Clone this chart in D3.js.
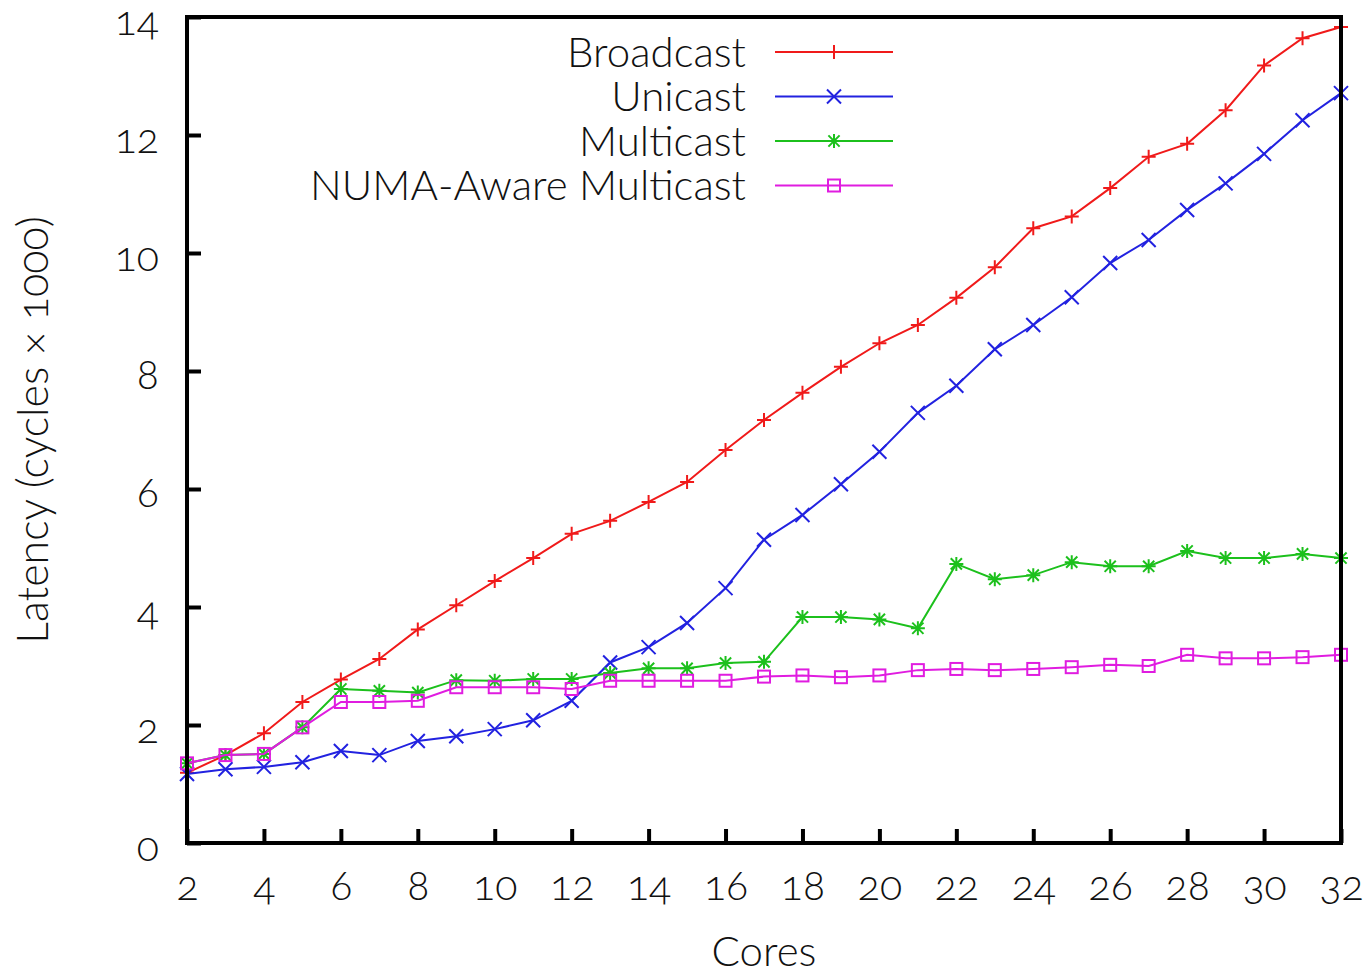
<!DOCTYPE html>
<html>
<head>
<meta charset="utf-8">
<script src="https://cdn.jsdelivr.net/npm/d3@7"></script>
<style>
  body { margin: 0; background: #fff; }
  svg text { font-family: Lato, "Open Sans", sans-serif; font-weight: 300; font-feature-settings: "onum"; font-variant-numeric: oldstyle-nums; fill: #111; }
</style>
</head>
<body>
<div id="chart"></div>
<script>
const cores = d3.range(2, 33);

const broadcast = [1.19, 1.49, 1.86, 2.39, 2.77, 3.12, 3.62, 4.03, 4.44, 4.83, 5.24, 5.46, 5.78, 6.12, 6.66, 7.17, 7.63, 8.07, 8.47, 8.78, 9.24, 9.76, 10.42, 10.62, 11.1, 11.63, 11.85, 12.42, 13.18, 13.64, 13.83];
const unicast = [1.17, 1.25, 1.29, 1.37, 1.56, 1.49, 1.73, 1.81, 1.93, 2.08, 2.41, 3.06, 3.32, 3.73, 4.32, 5.14, 5.56, 6.08, 6.63, 7.29, 7.75, 8.37, 8.78, 9.25, 9.83, 10.22, 10.73, 11.18, 11.68, 12.25, 12.71];
const multicast = [1.35, 1.49, 1.51, 1.96, 2.61, 2.58, 2.55, 2.76, 2.75, 2.78, 2.78, 2.88, 2.96, 2.96, 3.05, 3.07, 3.83, 3.83, 3.79, 3.64, 4.73, 4.47, 4.54, 4.76, 4.69, 4.69, 4.95, 4.83, 4.83, 4.9, 4.83];
const numaMulticast = [1.35, 1.49, 1.51, 1.96, 2.39, 2.39, 2.41, 2.64, 2.64, 2.64, 2.61, 2.75, 2.75, 2.75, 2.75, 2.82, 2.84, 2.81, 2.84, 2.93, 2.95, 2.93, 2.95, 2.98, 3.02, 3.0, 3.19, 3.13, 3.13, 3.15, 3.19];

const seriesNames = ["Broadcast", "Unicast", "Multicast", "NUMA-Aware Multicast"];
const seriesValues = [broadcast, unicast, multicast, numaMulticast];
const seriesColors = ["#f01a1a", "#2222e0", "#1cc01c", "#e01ce0"];
const seriesMarkers = ["plus", "cross", "star", "square"];

const xTicks = d3.range(2, 33, 2);
const yTicks = d3.range(0, 15, 2);

const width = 1371, height = 975;
const margin = { top: 17, right: 30, bottom: 132, left: 187 };

const svg = d3.select("#chart").append("svg")
  .attr("width", width)
  .attr("height", height);

const x = d3.scaleLinear().domain([2, 32]).range([margin.left, width - margin.right]);
const y = d3.scaleLinear().domain([0, 14]).range([height - margin.bottom, margin.top]);

function marker(g, type, color) {
  const s = 7;
  if (type === "plus") {
    g.append("path").attr("d", `M${-s},0H${s}M0,${-s}V${s}`);
  } else if (type === "cross") {
    g.append("path").attr("d", `M${-s},${-s}L${s},${s}M${-s},${s}L${s},${-s}`);
  } else if (type === "star") {
    g.append("path").attr("d", `M${-s},0H${s}M0,${-s}V${s}M${-s*0.8},${-s*0.8}L${s*0.8},${s*0.8}M${-s*0.8},${s*0.8}L${s*0.8},${-s*0.8}`);
  } else {
    g.append("rect").attr("x", -6).attr("y", -6).attr("width", 12).attr("height", 12);
  }
  g.selectAll("path, rect").attr("stroke", color).attr("stroke-width", 2).attr("fill", "none");
}

// ticks (inward)
svg.append("g")
  .attr("transform", `translate(${margin.left},0)`)
  .call(d3.axisLeft(y).tickValues(yTicks).tickSize(-14).tickPadding(28).tickFormat(d3.format("d")))
  .call(g => g.select(".domain").remove())
  .call(g => g.selectAll("line").attr("stroke", "#000").attr("stroke-width", 4))
  .call(g => g.selectAll("text").attr("font-size", 41).attr("dy", "0.42em").style("fill", "#111"));

svg.append("g")
  .attr("transform", `translate(0,${height - margin.bottom})`)
  .call(d3.axisBottom(x).tickValues(xTicks).tickSize(-14).tickPadding(28).tickFormat(d3.format("d")))
  .call(g => g.select(".domain").remove())
  .call(g => g.selectAll("line").attr("stroke", "#000").attr("stroke-width", 4))
  .call(g => g.selectAll("text").attr("font-size", 41).style("fill", "#111"));

// series
const line = d3.line().x((d, i) => x(cores[i])).y(d => y(d));
seriesValues.forEach((vals, k) => {
  svg.append("path")
    .datum(vals)
    .attr("d", line)
    .attr("fill", "none")
    .attr("stroke", seriesColors[k])
    .attr("stroke-width", 2);
  vals.forEach((v, i) => {
    const g = svg.append("g").attr("transform", `translate(${x(cores[i])},${y(v)})`);
    marker(g, seriesMarkers[k], seriesColors[k]);
  });
});

// border
svg.append("rect")
  .attr("x", margin.left).attr("y", margin.top)
  .attr("width", width - margin.right - margin.left)
  .attr("height", height - margin.bottom - margin.top)
  .attr("fill", "none").attr("stroke", "#000").attr("stroke-width", 4);

// legend
const legend = svg.append("g");
seriesNames.forEach((name, k) => {
  const ly = 52 + k * 44.5;
  legend.append("text")
    .attr("x", 746).attr("y", ly).attr("dy", "0.35em")
    .attr("text-anchor", "end").attr("font-size", 42)
    .text(name);
  legend.append("line")
    .attr("x1", 775).attr("x2", 893).attr("y1", ly).attr("y2", ly)
    .attr("stroke", seriesColors[k]).attr("stroke-width", 2);
  const g = legend.append("g").attr("transform", `translate(834,${ly})`);
  marker(g, seriesMarkers[k], seriesColors[k]);
});

// axis labels
svg.append("text")
  .attr("x", 764).attr("y", 951).attr("dy", "0.35em")
  .attr("text-anchor", "middle").attr("font-size", 42)
  .text("Cores");

svg.append("text")
  .attr("transform", `translate(33,430) rotate(-90)`)
  .attr("dy", "0.35em")
  .attr("text-anchor", "middle").attr("font-size", 43)
  .text("Latency (cycles × 1000)");
</script>
</body>
</html>
